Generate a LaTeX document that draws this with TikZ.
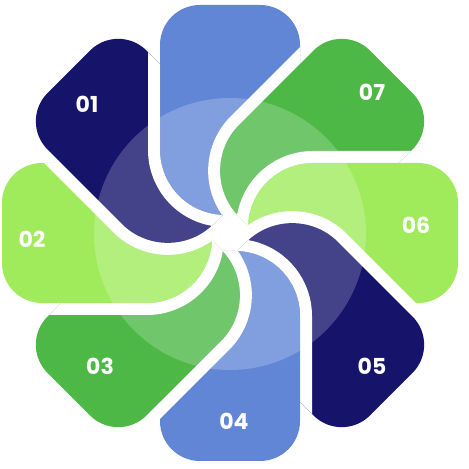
\documentclass[tikz,border=0pt]{standalone}
\usepackage{fontspec}
\setmainfont{Poppins}
\definecolor{cblue}{RGB}{98,134,214}
\definecolor{cgreen}{RGB}{77,184,69}
\definecolor{clight}{RGB}{160,235,92}
\definecolor{cnavy}{RGB}{22,19,107}
\def\petalpath{(-70,83) -- (-70,188) arc[start angle=180, end angle=90, radius=40] -- (30,228) arc[start angle=90, end angle=0, radius=40] -- (70,18) -- (-5,18) arc[start angle=270, end angle=180, radius=65] -- cycle}
\tikzset{lbl/.style={text=white, font=\bfseries\fontsize{22}{22}\selectfont, inner sep=0pt}}
\newcommand{\mypetal}[2]{%
  \begin{scope}
    \clip[shift={(230,236)}, rotate=-45*#1] \petalpath;
    \clip[shift={(230,236)}, rotate=-45*(#1+1)] (-1000,-1000) -- (1000,-1000) -- (1000,1000) -- (-1000,1000) -- cycle \petalpath;
    \fill[#2] (-100,-100) rectangle (600,600);
    \draw[white, line width=24, shift={(230,236)}, rotate=-45*(#1+1)] \petalpath;
  \end{scope}}
\begin{document}
\begin{tikzpicture}[x=1pt,y=1pt]
\useasboundingbox (0,0) rectangle (469,469);
\fill[white] (0,0) rectangle (469,469);
\mypetal{0}{cblue}
\mypetal{1}{cgreen}
\mypetal{2}{clight}
\mypetal{3}{cnavy}
\mypetal{4}{cblue}
\mypetal{5}{cgreen}
\mypetal{6}{clight}
\mypetal{7}{cnavy}
\fill[white, opacity=0.2] (230,235) circle (136);
\node[lbl] (l1) at (87,365) {01};
\node[lbl] (l2) at (32,230) {02};
\node[lbl] (l3) at (100,103) {03};
\node[lbl] (l4) at (234,48) {04};
\node[lbl] (l5) at (372,103) {05};
\node[lbl] (l6) at (416,244) {06};
\node[lbl] (l7) at (372,377) {07};
\end{tikzpicture}
\end{document}
